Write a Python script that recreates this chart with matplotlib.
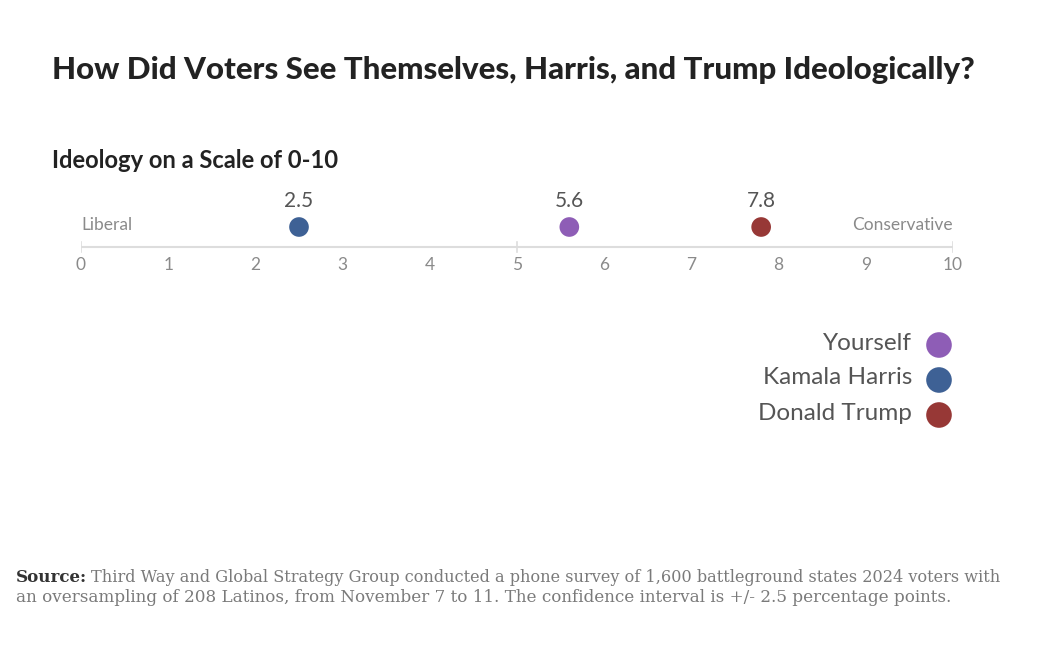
import matplotlib
matplotlib.use("Agg")
import matplotlib.pyplot as plt

# ---- data ----
series = ["Yourself", "Kamala Harris", "Donald Trump"]
values = [5.6, 2.5, 7.8]
value_labels = ["5.6", "2.5", "7.8"]
colors = ["#8e5db6", "#3e6195", "#973836"]
ticks = [0, 1, 2, 3, 4, 5, 6, 7, 8, 9, 10]
major_ticks = [0, 5, 10]
title = "How Did Voters See Themselves, Harris, and Trump Ideologically?"
subtitle = "Ideology on a Scale of 0-10"
left_label = "Liberal"
right_label = "Conservative"
source_bold = "Source:"
source_line1 = "Third Way and Global Strategy Group conducted a phone survey of 1,600 battleground states 2024 voters with"
source_line2 = "an oversampling of 208 Latinos, from November 7 to 11. The confidence interval is +/- 2.5 percentage points."

W, H = 1064, 659
fig = plt.figure(figsize=(W / 100, H / 100), dpi=100)
fig.patch.set_facecolor("white")

ov = fig.add_axes([0, 0, 1, 1])
ov.set_xlim(0, W)
ov.set_ylim(H, 0)
ov.axis("off")

x0, x1 = 81, 953
ytop, ybot = 180, 280
ax = fig.add_axes([x0 / W, 1 - ybot / H, (x1 - x0) / W, (ybot - ytop) / H])
ax.set_xlim(0, 10)
ax.set_ylim(0, 1)
ax.axis("off")

def py(p):
    return (ybot - p) / (ybot - ytop)

fig.canvas.draw()
renderer = fig.canvas.get_renderer()

def fit(t, width_px):
    bb = t.get_window_extent(renderer)
    t.set_fontsize(t.get_fontsize() * width_px / bb.width)

t = ov.text(52, 70, title, fontsize=20, fontweight="black", family="Lato",
            color="#222222", ha="left", va="center")
fit(t, 925)
t = ov.text(52, 161, subtitle, fontsize=14, fontweight="bold", family="Lato",
            color="#222222", ha="left", va="center")
fit(t, 288)

ax.plot([0, 10], [py(247), py(247)], color="#dddddd", lw=1.5, solid_capstyle="butt", zorder=1)
for m in major_ticks:
    ax.plot([m, m], [py(242), py(252)], color="#dddddd", lw=1.2, zorder=1)
for tk in ticks:
    ax.text(tk, py(265), str(tk), ha="center", va="center", fontsize=12.5,
            family="Lato", color="#8a8a8a")

ax.text(0, py(225), left_label, ha="left", va="center", fontsize=12.5,
        family="Lato", color="#8a8a8a")
ax.text(10, py(225), right_label, ha="right", va="center", fontsize=12.5,
        family="Lato", color="#8a8a8a")

for v, lab, c in zip(values, value_labels, colors):
    ax.scatter([v], [py(227)], s=200, color=c, zorder=3, edgecolors="none")
    ax.text(v, py(201), lab, ha="center", va="center", fontsize=15,
            family="Lato", color="#555555")

leg_y = [345, 380, 415]
for name, c, yy in zip(series, colors, leg_y):
    ov.scatter([939], [yy], s=340, color=c, edgecolors="none")
    ov.text(912, yy - 2, name, ha="right", va="center", fontsize=17.5,
            family="Lato", color="#555555")

fig.canvas.draw()
sb = ov.text(16, 578, source_bold, ha="left", va="center", fontsize=12,
             family="DejaVu Serif", fontweight="bold", color="#333333")
s1 = ov.text(80, 578, source_line1, ha="left", va="center", fontsize=12,
             family="DejaVu Serif", color="#7a7a7a")
s2 = ov.text(16, 598, source_line2, ha="left", va="center", fontsize=12,
             family="DejaVu Serif", color="#7a7a7a")
fit(s2, 934)
fs = s2.get_fontsize()
sb.set_fontsize(fs)
s1.set_fontsize(fs)
fig.canvas.draw()
bb = sb.get_window_extent(renderer)
gap = fs * 0.35
s1.set_x(16 + bb.width + gap)
fig.canvas.draw()
b1 = s1.get_window_extent(renderer)
target = 997 - (16 + bb.width + gap)
s1.set_fontsize(fs * target / b1.width)

fig.savefig("out.png", dpi=100, facecolor="white")
